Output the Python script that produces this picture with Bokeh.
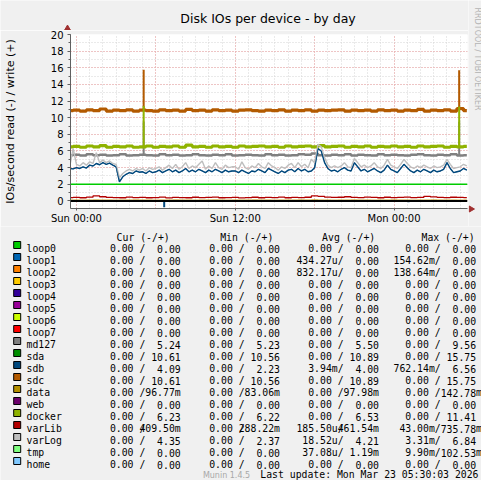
import numpy as np
from bokeh.plotting import figure
from bokeh.layouts import column, row
from bokeh.models import Range1d, SingleIntervalTicker, FixedTicker, Span
from bokeh.core.properties import value
from bokeh.embed import file_html
from bokeh.resources import INLINE

# ---------------- data ----------------
title_text = "Disk IOs per device - by day"
y_label = "IOs/second read (-) / write (+)"
x_tick_hours = [0, 12, 24]
x_tick_labels = ["Sun 00:00", "Sun 12:00", "Mon 00:00"]
y_ticks = [0, 2, 4, 6, 8, 10, 12, 14, 16, 18, 20]

t_start = -0.5          # hours relative to Sun 00:00
half_step = 0.5
quarter_step = 0.25

# write (+) series, every 30 min
sdc_write = [10.85,
             10.9, 10.8, 10.95, 10.85, 11.05, 10.8, 10.9, 10.85, 10.95, 10.8,
             10.9, 10.85, 10.8, 10.95, 10.85, 10.9, 10.8, 11.0, 10.85, 10.9,
             10.8, 10.95, 10.85, 10.9, 10.8, 10.9, 10.95, 10.85, 10.8, 10.9,
             10.85, 10.95, 10.8, 10.9, 10.85, 10.95, 10.8, 10.9, 10.85, 10.9,
             10.95, 10.8, 10.9, 10.85, 10.9, 10.8, 10.95, 10.85, 10.9, 10.8,
             10.9, 10.85, 11.0, 10.8, 10.9, 10.85, 10.95, 10.8, 11.1, 10.85]
docker_write = [6.5,
                6.55, 6.45, 6.6, 6.5, 6.65, 6.45, 6.55, 6.5, 6.6, 6.45,
                6.5, 6.6, 6.45, 6.55, 6.5, 6.6, 6.45, 6.7, 6.5, 6.55,
                6.45, 6.6, 6.5, 6.55, 6.45, 6.6, 6.5, 6.55, 6.6, 6.5,
                6.55, 6.45, 6.6, 6.5, 6.55, 6.6, 6.5, 6.65, 6.5, 6.55,
                6.6, 6.45, 6.55, 6.5, 6.6, 6.45, 6.55, 6.5, 6.6, 6.5,
                6.55, 6.45, 6.6, 6.5, 6.55, 6.6, 6.45, 6.55, 6.5, 6.55]
md127_write = [5.5,
               5.55, 5.45, 5.6, 5.5, 5.55, 5.45, 5.5, 5.6, 5.45, 5.5,
               5.55, 5.5, 5.45, 5.6, 5.5, 5.55, 5.45, 5.5, 5.6, 5.5,
               5.45, 5.55, 5.5, 5.6, 5.45, 5.5, 5.55, 5.5, 5.45, 5.6,
               5.5, 5.55, 5.45, 5.5, 5.6, 5.55, 5.7, 5.5, 5.45, 5.55,
               5.5, 5.6, 5.45, 5.55, 5.5, 5.45, 5.6, 5.5, 5.55, 5.5,
               5.45, 5.55, 5.6, 5.5, 5.45, 5.55, 5.5, 5.6, 5.45, 5.5]
varLib_write = [0.4,
                0.42, 0.38, 0.45, 0.6, 0.5, 0.42, 0.4, 0.38, 0.45, 0.4,
                0.42, 0.38, 0.4, 0.45, 0.36, 0.42, 0.4, 0.38, 0.44, 0.4,
                0.42, 0.45, 0.38, 0.4, 0.42, 0.36, 0.4, 0.44, 0.38, 0.42,
                0.4, 0.45, 0.38, 0.42, 0.4, 0.44, 0.6, 0.55, 0.45, 0.42,
                0.44, 0.5, 0.42, 0.4, 0.46, 0.42, 0.38, 0.44, 0.4, 0.42,
                0.45, 0.4, 0.42, 0.55, 0.48, 0.42, 0.4, 0.44, 0.42, 0.4]
data_write = [0.1,
              0.1, 0.09, 0.1, 0.11, 0.1, 0.1, 0.09, 0.1, 0.1, 0.11,
              0.1, 0.1, 0.09, 0.1, 0.1, 0.11, 0.1, 0.1, 0.09, 0.1,
              0.1, 0.11, 0.1, 0.09, 0.1, 0.1, 0.1, 0.11, 0.1, 0.1,
              0.09, 0.1, 0.1, 0.1, 0.11, 0.1, 0.12, 0.1, 0.1, 0.09,
              0.1, 0.1, 0.11, 0.1, 0.1, 0.09, 0.1, 0.1, 0.11, 0.1,
              0.1, 0.09, 0.1, 0.1, 0.11, 0.1, 0.1, 0.1, 0.09, 0.1]

# write (+) series, every 15 min
sdb_write = [3.9, 3.85,
             4.0, 3.9, 4.1, 3.95,   4.3, 4.2, 4.5, 4.35,   4.6, 4.4, 4.55, 4.3,
             4.1, 2.3, 2.9, 3.2,    3.4, 3.3, 3.6, 3.45,   3.5, 3.3, 3.6, 3.4,
             3.5, 3.7, 3.4, 3.6,    3.8, 3.5, 3.7, 3.4,    3.6, 3.9, 3.5, 3.7,
             3.5, 3.8, 3.6, 3.4,    3.7, 3.5, 3.8, 3.6,    3.4, 3.7, 3.5, 3.6,
             3.6, 3.4, 3.7, 3.5,    3.3, 3.6, 3.5, 3.8,    3.6, 3.4, 3.9, 3.7,
             3.5, 3.3, 3.6, 3.4,    3.7, 3.8, 3.5, 3.9,    3.6, 3.8, 3.5, 3.6,
             4.0, 6.3, 6.0, 4.6,    3.9, 3.6, 3.7, 3.5,    3.8, 4.0, 3.7, 3.6,
             4.6, 4.1, 3.6, 3.8,    3.5, 3.7, 3.9, 3.6,    3.4, 3.7, 4.3, 3.8,
             3.6, 3.4, 3.9, 4.4,    4.0, 3.6, 3.4, 3.7,    3.5, 3.8, 3.6, 3.4,
             3.7, 3.5, 3.6, 3.8,    4.6, 3.9, 3.4, 3.5,    3.6, 3.9, 3.7]
varLog_write = [4.2, 6.3,
                4.4, 4.2, 4.6, 4.3,   4.7, 4.5, 5.8, 4.6,   4.9, 4.6, 4.8, 4.5,
                4.4, 2.8, 3.3, 3.6,   3.8, 3.6, 3.9, 3.7,   3.9, 3.6, 4.0, 3.8,
                3.9, 4.1, 3.7, 4.0,   4.3, 3.9, 4.4, 3.8,   4.1, 4.6, 3.9, 4.2,
                4.0, 4.4, 4.8, 3.8,   4.2, 3.9, 4.6, 4.0,   3.8, 4.3, 4.0, 4.1,
                4.1, 3.8, 4.7, 4.0,   3.8, 4.2, 4.0, 4.5,   4.1, 3.9, 4.6, 4.2,
                4.0, 3.7, 4.1, 3.9,   4.3, 4.5, 4.0, 4.6,   4.1, 4.4, 4.0, 5.0,
                4.6, 6.8, 6.5, 5.2,   4.3, 4.0, 4.2, 4.0,   4.2, 4.6, 4.1, 4.0,
                5.1, 4.6, 4.1, 4.3,   4.0, 4.2, 4.6, 4.1,   3.9, 4.3, 5.0, 4.3,
                4.1, 3.9, 4.4, 5.0,   4.5, 4.1, 3.9, 4.2,   4.0, 4.3, 4.1, 3.9,
                4.2, 4.0, 4.1, 4.3,   5.0, 4.4, 3.9, 4.0,   4.1, 4.4, 4.2]

# short spikes (write)
spike_hours = [5.08, 28.92]
sdc_spike = [15.75, 15.7]
docker_spike = [11.41, 11.35]
md127_spike = [9.56, 9.5]

# read (-) blips
sdb_read_hours = [6.63, 13.0, 16.1, 20.1, 23.2, 25.1, 25.7, 27.6]
sdb_read = [0.762, 0.12, 0.1, 0.1, 0.12, 0.15, 0.12, 0.1]
loop2_read_hours = [11.45, 18.03]
loop2_read = [0.139, 0.12]

rule_level = 2.0
zero_level = 0.0

# legend table
names = ["loop0", "loop1", "loop2", "loop3", "loop4", "loop5", "loop6", "loop7",
         "md127", "sda", "sdb", "sdc", "data", "web", "docker", "varLib",
         "varLog", "tmp", "home"]
colors = ["#00CC00", "#0066B3", "#FF8000", "#FFCC00", "#330099", "#990099",
          "#CCFF00", "#FF0000", "#808080", "#008F00", "#00487D", "#B35A00",
          "#B38F00", "#6B006B", "#8FB300", "#B30000", "#BEBEBE", "#80FF80",
          "#80C9FF"]
column_headers = ["Cur (-/+)", "Min (-/+)", "Avg (-/+)", "Max (-/+)"]
cur_read = ["0.00", "0.00", "0.00", "0.00", "0.00", "0.00", "0.00", "0.00", "0.00", "0.00",
            "0.00", "0.00", "0.00", "0.00", "0.00", "0.00", "0.00", "0.00", "0.00"]
cur_write = ["0.00", "0.00", "0.00", "0.00", "0.00", "0.00", "0.00", "0.00", "5.24", "10.61",
             "4.09", "10.61", "96.77m", "0.00", "6.23", "409.50m", "4.35", "0.00", "0.00"]
min_read = ["0.00", "0.00", "0.00", "0.00", "0.00", "0.00", "0.00", "0.00", "0.00", "0.00",
            "0.00", "0.00", "0.00", "0.00", "0.00", "0.00", "0.00", "0.00", "0.00"]
min_write = ["0.00", "0.00", "0.00", "0.00", "0.00", "0.00", "0.00", "0.00", "5.23", "10.56",
             "2.23", "10.56", "83.06m", "0.00", "6.22", "288.22m", "2.37", "0.00", "0.00"]
avg_read = ["0.00", "434.27u", "832.17u", "0.00", "0.00", "0.00", "0.00", "0.00", "0.00", "0.00",
            "3.94m", "0.00", "0.00", "0.00", "0.00", "185.50u", "18.52u", "37.08u", "0.00"]
avg_write = ["0.00", "0.00", "0.00", "0.00", "0.00", "0.00", "0.00", "0.00", "5.50", "10.89",
             "4.00", "10.89", "97.98m", "0.00", "6.53", "461.54m", "4.21", "1.19m", "0.00"]
max_read = ["0.00", "154.62m", "138.64m", "0.00", "0.00", "0.00", "0.00", "0.00", "0.00", "0.00",
            "762.14m", "0.00", "0.00", "0.00", "0.00", "43.00m", "3.31m", "9.90m", "0.00"]
max_write = ["0.00", "0.00", "0.00", "0.00", "0.00", "0.00", "0.00", "0.00", "9.56", "15.75",
             "6.56", "15.75", "142.78m", "0.00", "11.41", "735.78m", "6.84", "102.53m", "0.00"]
last_update = "Last update: Mon Mar 23 05:30:03 2026"
munin_version = "Munin 1.4.5"
rrd_credit = "RRDTOOL / TOBI OETIKER"

# ---------------- common styling ----------------
BG = "#F0F0F0"
SANS = "DejaVu Sans"
MONO = "DejaVu Sans Mono"
ARROW = "#A03030"
W_TOTAL, H_TOTAL = 481, 480
PLOT_W, HEAD_H, MAIN_H = 468, 30, 196


def panel(w, x0, y0, h):
    """A plain canvas whose data units are canvas pixels (y grows downward)."""
    f = figure(width=w, height=h, x_range=Range1d(x0, x0 + w), y_range=Range1d(y0 + h, y0),
               x_axis_type=None, y_axis_type=None, output_backend="svg",
               toolbar_location=None, min_border=0, outline_line_color=None,
               background_fill_color=BG, border_fill_color=BG, frame_align=False)
    return f


# ---------------- header (title + y-axis arrow) ----------------
hd = panel(PLOT_W, 0, 0, HEAD_H)
hd.text(x=[267.5], y=[18.3], text=[title_text], text_font=value(SANS),
        text_font_size="12.5px", text_align="center", text_baseline="alphabetic",
        text_color="#000000")
hd.scatter(x=[67], y=[28], marker="triangle", size=6, fill_color=ARROW, line_color=ARROW)

# ---------------- main plot ----------------
t_half = t_start + half_step * np.arange(len(sdc_write))
t_quarter = t_start + quarter_step * np.arange(len(sdb_write))

p = figure(width=PLOT_W, height=MAIN_H, title=None,
           x_range=Range1d(-0.45, 29.55), y_range=Range1d(-0.91, 20.0),
           output_backend="svg", toolbar_location=None, frame_align=False,
           min_border_left=67, min_border_right=1, min_border_top=4, min_border_bottom=18,
           background_fill_color="white", border_fill_color=BG, outline_line_color=None)

p.xgrid.ticker = SingleIntervalTicker(interval=6, num_minor_ticks=6)
p.ygrid.ticker = SingleIntervalTicker(interval=2, num_minor_ticks=2)
for g in (p.xgrid, p.ygrid):
    g.grid_line_color = "#F2A0A0"
    g.grid_line_dash = "1 2"
    g.grid_line_width = 1
    g.minor_grid_line_color = "#D4D4D4"
    g.minor_grid_line_dash = "1 2"

p.xaxis.ticker = FixedTicker(ticks=x_tick_hours)
p.xaxis.major_label_overrides = {h: lab for h, lab in zip(x_tick_hours, x_tick_labels)}
p.yaxis.ticker = FixedTicker(ticks=y_ticks, minor_ticks=list(range(0, 21)))
for ax in (p.xaxis, p.yaxis):
    ax.axis_line_color = "#606060"
    ax.major_tick_line_color = "#606060"
    ax.minor_tick_line_color = "#606060"
    ax.major_label_text_font = SANS
    ax.major_label_text_font_size = "10px"
    ax.major_label_text_color = "#000000"
    ax.major_tick_in = 0
    ax.minor_tick_in = 0
p.xaxis.major_tick_out = 2
p.xaxis.minor_tick_out = 0
p.xaxis.major_label_standoff = 2
p.yaxis.major_tick_out = 3
p.yaxis.minor_tick_out = 2
p.yaxis.major_label_standoff = 4
p.yaxis.axis_label = y_label
p.yaxis.axis_label_text_font = SANS
p.yaxis.axis_label_text_font_size = "11px"
p.yaxis.axis_label_text_font_style = "normal"
p.yaxis.axis_label_text_color = "#000000"
p.yaxis.axis_label_standoff = 31

p.add_layout(Span(location=rule_level, dimension="width", line_color="#00CC00", line_width=1.5))

# series in munin drawing order
p.step(t_half, md127_write, mode="center", line_color="#808080", line_width=2.5)
p.segment(x0=spike_hours, y0=np.interp(spike_hours, t_half, md127_write),
          x1=spike_hours, y1=md127_spike, line_color="#808080", line_width=2)
p.line(t_quarter, sdb_write, line_color="#00487D", line_width=1.4)
p.step(t_half, sdc_write, mode="center", line_color="#B35A00", line_width=3.2)
p.segment(x0=spike_hours, y0=np.interp(spike_hours, t_half, sdc_write),
          x1=spike_hours, y1=sdc_spike, line_color="#B35A00", line_width=2)
p.step(t_half, data_write, mode="center", line_color="#B38F00", line_width=1)
p.step(t_half, docker_write, mode="center", line_color="#8FB300", line_width=3.2)
p.segment(x0=spike_hours, y0=np.interp(spike_hours, t_half, docker_write),
          x1=spike_hours, y1=docker_spike, line_color="#8FB300", line_width=2)
p.step(t_half, varLib_write, mode="center", line_color="#B30000", line_width=1.3)
p.line(t_quarter, varLog_write, line_color="#BEBEBE", line_width=1.4)
p.line(t_quarter, sdb_write, line_color="#00487D", line_width=1.0, line_alpha=0.55)

p.add_layout(Span(location=zero_level, dimension="width", line_color="#000000", line_width=2))
p.segment(x0=sdb_read_hours, y0=0, x1=sdb_read_hours, y1=[-v for v in sdb_read],
          line_color="#00487D", line_width=2)
p.segment(x0=loop2_read_hours, y0=0, x1=loop2_read_hours, y1=[-v for v in loop2_read],
          line_color="#FF8000", line_width=2)

# ---------------- right strip (credit + x-axis arrow) ----------------
cr = panel(W_TOTAL - PLOT_W, PLOT_W, 0, HEAD_H + MAIN_H)
cr.text(x=[476.5], y=[7], text=[rrd_credit], angle=-np.pi / 2, text_font=value(SANS),
        text_font_size="8px", text_align="left", text_baseline="middle",
        text_color="#B4B4B4")
cr.scatter(x=[470.5], y=[208.5], marker="triangle", angle=-np.pi / 2, size=6,
           fill_color=ARROW, line_color=ARROW)

# ---------------- legend panel ----------------
LEG_Y0 = HEAD_H + MAIN_H
lg = panel(W_TOTAL, 0, LEG_Y0, H_TOTAL - LEG_Y0)

cw = 5.9
row_y = [248 + 12 * i for i in range(len(names))]
col_x = [97.6, 196.9, 295.9, 393.0]
head_x = [116.1, 219.7, 321.6, 421.0]
fs = "9.8px"


def split(s):
    if s[-1] in "um":
        return s[:-1], s[-1]
    return s, " "


lg.rect(x=16.7, y=[y - 3.5 for y in row_y], width=7, height=7,
        fill_color=colors, line_color="#000000", line_width=1)
lg.text(x=26, y=row_y, text=names, text_font=value(MONO), text_font_size=fs,
        text_baseline="alphabetic", text_color="#000000")
lg.text(x=head_x, y=[236.5] * 4, text=column_headers, text_font=value(MONO),
        text_font_size=fs, text_baseline="alphabetic", text_color="#000000")

cols = [(cur_read, cur_write), (min_read, min_write), (avg_read, avg_write), (max_read, max_write)]
for k, (rd, wr) in enumerate(cols):
    left_txt = [split(s)[0] + split(s)[1] + "/" for s in rd]
    lg.text(x=col_x[k] + 8 * cw, y=row_y, text=left_txt, text_font=value(MONO),
            text_font_size=fs, text_align="right", text_baseline="alphabetic",
            text_color="#000000")
    if k < 3:
        lg.text(x=col_x[k] + 14 * cw, y=row_y, text=wr, text_font=value(MONO),
                text_font_size=fs, text_align="right", text_baseline="alphabetic",
                text_color="#000000")
    else:
        nums = [split(s)[0] for s in wr]
        units = [split(s)[1].strip() for s in wr]
        lg.text(x=col_x[k] + 14 * cw, y=row_y, text=nums, text_font=value(MONO),
                text_font_size=fs, text_align="right", text_baseline="alphabetic",
                text_color="#000000")
        lg.text(x=col_x[k] + 14 * cw, y=row_y, text=units, text_font=value(MONO),
                text_font_size=fs, text_align="left", text_baseline="alphabetic",
                text_color="#000000")

lg.text(x=[478], y=[474], text=[last_update], text_font=value(MONO), text_font_size=fs,
        text_align="right", text_baseline="alphabetic", text_color="#000000")
lg.text(x=[226], y=[474.5], text=[munin_version], text_font=value(SANS),
        text_font_size="8px", text_align="center", text_baseline="alphabetic",
        text_color="#A8A8A8")

layout = column(row(column(hd, p, spacing=0), cr, spacing=0), lg, spacing=0)
open("out.html", "w").write(file_html(layout, INLINE))
